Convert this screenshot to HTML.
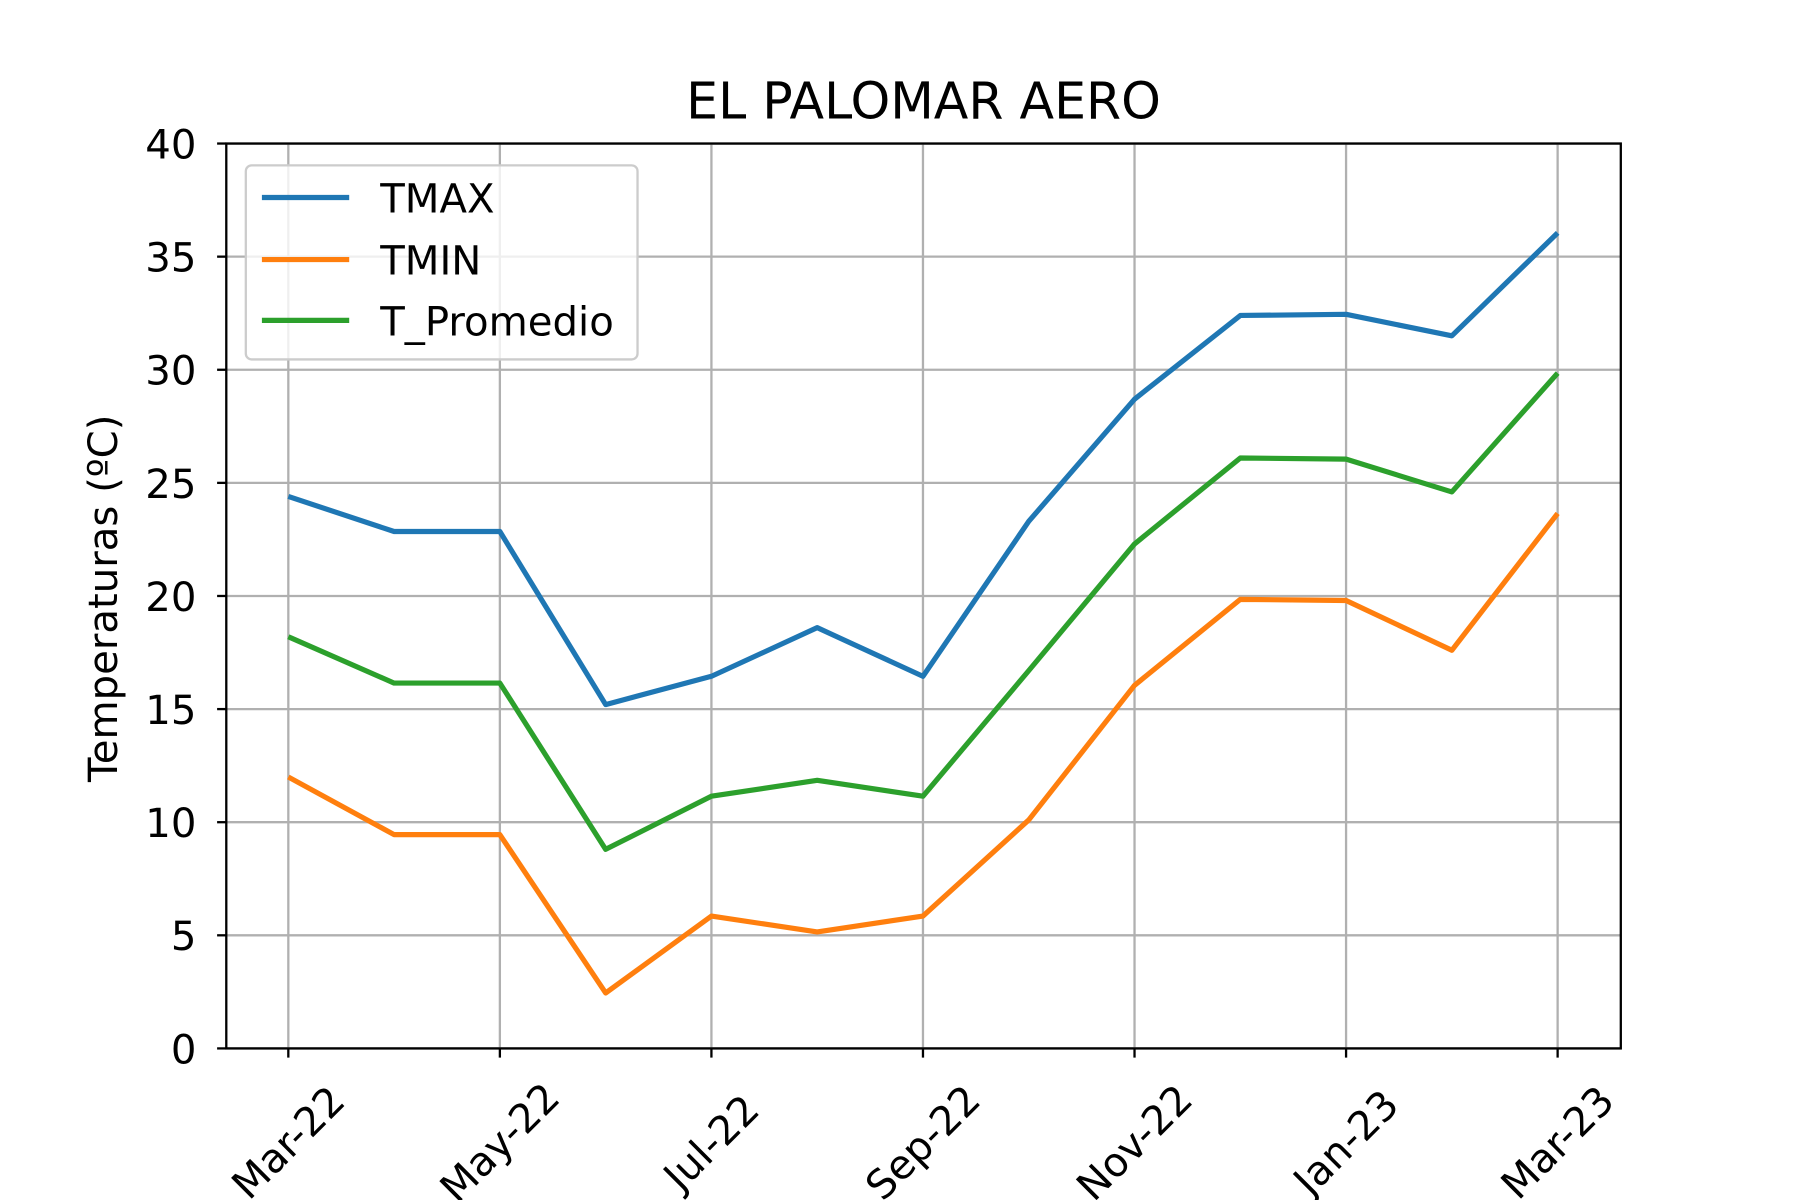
<!DOCTYPE html>
<html><head><meta charset="utf-8"><style>
html,body{margin:0;padding:0;background:#fff;}
svg{display:block;}
text{font-family:"DejaVu Sans","Liberation Sans",sans-serif;fill:#000;}
</style></head><body>
<svg id="chart" width="1800" height="1200" viewBox="0 0 1567 1045" preserveAspectRatio="none" xmlns="http://www.w3.org/2000/svg">
<rect width="1567" height="1045" fill="#fff"/>
<g id="grid"></g>
<g id="series"></g>
<rect x="197" y="125" width="1214" height="788" fill="none" stroke="#000" stroke-width="2"/>
<g id="ticks"></g>
<text x="804" y="103" font-size="44" text-anchor="middle">EL PALOMAR AERO</text>
<text transform="translate(102,521) rotate(-90)" font-size="35" text-anchor="middle">Temperaturas (ºC)</text>
<g>
<rect x="214" y="144" width="341" height="169" rx="5" fill="#fff" fill-opacity="0.8" stroke="#ccc" stroke-width="2"/>
<line x1="228" y1="172" x2="304" y2="172" stroke="#1f77b4" stroke-width="4.5"/>
<text x="331" y="185" font-size="35">TMAX</text>
<line x1="228" y1="226" x2="304" y2="226" stroke="#ff7f0e" stroke-width="4.5"/>
<text x="331" y="239" font-size="35">TMIN</text>
<line x1="228" y1="279" x2="304" y2="279" stroke="#2ca02c" stroke-width="4.5"/>
<text x="331" y="292" font-size="35">T_Promedio</text>
</g>
</svg>
<script>
const months = [0,1,2,3,4,5,6,7,8,9,10,11,12];
const tmax = [24.4,22.85,22.85,15.2,16.45,18.6,16.45,23.3,28.7,32.4,32.45,31.5,36.05];
const tmin = [12.0,9.45,9.45,2.45,5.85,5.15,5.85,10.1,16.05,19.85,19.8,17.6,23.65];
const tavg = [18.2,16.15,16.15,8.8,11.15,11.85,11.15,16.7,22.3,26.1,26.05,24.6,29.85];
const yTicks = [0,5,10,15,20,25,30,35,40];
const xTickMonths = [0,2,4,6,8,10,12];
const xTickLabels = ["Mar-22","May-22","Jul-22","Sep-22","Nov-22","Jan-23","Mar-23"];
const NS="http://www.w3.org/2000/svg";
function xs(m){return 251+m*(1356-251)/12;}
function ys(v){return 913-v*(913-125)/40;}
function mk(tag,attrs,parent){const e=document.createElementNS(NS,tag);for(const k in attrs)e.setAttribute(k,attrs[k]);parent.appendChild(e);return e;}
const grid=document.getElementById('grid'),ticks=document.getElementById('ticks'),series=document.getElementById('series');
yTicks.forEach(v=>{
 const g=mk('line',{x1:197,x2:1411,y1:ys(v),y2:ys(v),stroke:'#b0b0b0','stroke-width':2},grid);
 
 
 const t=mk('line',{x1:189,x2:197,y1:ys(v),y2:ys(v),stroke:'#000','stroke-width':2},ticks);
 
 
 const l=mk('text',{x:171,y:ys(v)+13,'font-size':35,'text-anchor':'end'},ticks);
 l.textContent=v;
 
 
});
xTickMonths.forEach((m,i)=>{
 const g=mk('line',{x1:xs(m),x2:xs(m),y1:125,y2:913,stroke:'#b0b0b0','stroke-width':2},grid);
 
 
 const t=mk('line',{x1:xs(m),x2:xs(m),y1:913,y2:921,stroke:'#000','stroke-width':2},ticks);
 
 
 const l=mk('text',{transform:`translate(${xs(m)},${995}) rotate(-45)`,y:12,'font-size':35,'text-anchor':'middle'},ticks);
 l.textContent=xTickLabels[i];
 
 
});
[[tmax,'#1f77b4','line-tmax'],[tmin,'#ff7f0e','line-tmin'],[tavg,'#2ca02c','line-tpromedio']].forEach(([d,c,n])=>{
 const p=mk('polyline',{points:d.map((v,i)=>xs(months[i])+','+ys(v)).join(' '),fill:'none',stroke:c,'stroke-width':4.5,'stroke-linejoin':'round'},series);
 
 
});
</script>
</body></html>
